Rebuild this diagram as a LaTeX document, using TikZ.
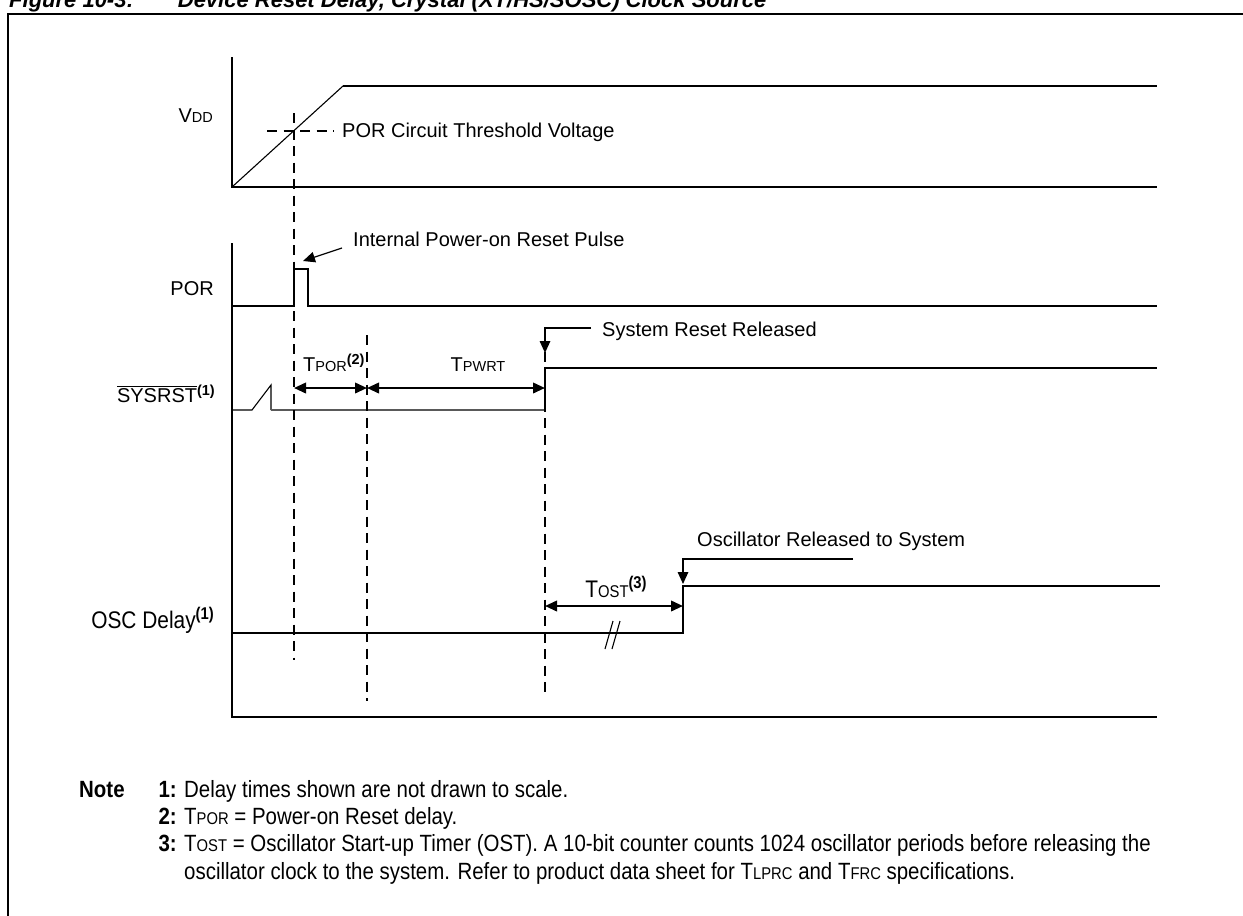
\documentclass[tikz,border=0pt]{standalone}
\usepackage{fontspec}
\setmainfont{Liberation Sans}
\newfontfamily\narrowfont{Liberation Sans}[FakeStretch=0.87]
\usetikzlibrary{arrows.meta}
\newcommand{\sm}[1]{{\fontsize{14.5}{14.5}\selectfont #1}}
\newcommand{\nsm}[1]{{\fontsize{17}{17}\selectfont #1}}
\newcommand{\supn}[1]{\raisebox{7pt}{\fontsize{14.5}{14.5}\selectfont\bfseries (#1)}}
\newcommand{\nsupn}[1]{\raisebox{8.5pt}{\fontsize{17}{17}\selectfont\bfseries (#1)}}
\begin{document}
\begin{tikzpicture}[x=1pt,y=-1pt,
  sig/.style={line width=2.2pt, line join=miter},
  thinl/.style={line width=1.1pt},
  grayl/.style={line width=1.6pt, draw=black!65},
  dl/.style={line width=1.8pt, dash pattern=on 10pt off 6.5pt},
  lbl/.style={inner sep=0pt, font=\fontsize{20}{23}\selectfont},
  nlbl/.style={inner sep=0pt, font=\narrowfont\fontsize{24}{27}\selectfont},
  tip/.style={-{Triangle[length=12pt,width=10.5pt]}},
  arrl/.style={line width=1.2pt, tip},
  dimarr/.style={line width=2.2pt, {Triangle[length=12pt,width=10.5pt]}-{Triangle[length=12pt,width=10.5pt]}},
  notef/.style={inner sep=0pt, font=\narrowfont\fontsize{23.5}{27}\selectfont}
]
\useasboundingbox (0,0) rectangle (1243,916);
% frame and title
\draw[line width=2.4pt] (1265,14) -- (8,14) -- (8,940);
\node[anchor=base west, inner sep=0pt, font=\fontsize{22}{25}\selectfont\bfseries\itshape] (title) at (9,7)
  {Figure 10-3:\hspace{44pt}Device Reset Delay, Crystal (XT/HS/SOSC) Clock Source};

% axes
\draw[sig] (232,57) -- (232,187) -- (1157,187);
\draw[sig] (343,86) -- (1157,86);
\draw[thinl] (232,187) -- (343,86);
\draw[sig] (232,243) -- (232,717) -- (1157,717);

% POR pulse
\draw[sig] (232,306) -- (294,306) -- (294,269) -- (308,269) -- (308,306) -- (1157,306);
% SYSRST
\draw[thinl] (232,410) -- (252,410) -- (271,385) -- (271,410);
\draw[grayl] (271,410) -- (545,410);
\draw[sig] (545,410) -- (545,368) -- (1157,368);
% OSC
\draw[sig] (232,633) -- (683,633) -- (683,586) -- (1160,586);
% break mark
\draw[thinl] (605,649) -- (613,621);
\draw[thinl] (612,649) -- (620,621);

% dashed markers
\draw[dl] (294,113) -- (294,660);
\draw[dl] (367,335) -- (367,701);
\draw[dl] (545,352) -- (545,695);
\draw[dl] (267,131) -- (334,131);

% signal labels
\node[lbl, anchor=base east] (vdd) at (213,122) {V\sm{DD}};
\node[lbl, anchor=base east] (por) at (214,295) {POR};
\node[lbl, anchor=base east] (sys) at (215,402) {$\overline{\hbox{SYSRST}}$\supn{1}};
\node[nlbl, anchor=base east] (osc) at (214,628) {OSC Delay\nsupn{1}};

% annotations
\node[lbl, anchor=base west] (thr) at (342,137) {POR Circuit Threshold Voltage};
\node[lbl, anchor=base west] (ipr) at (353,246) {Internal Power-on Reset Pulse};
\coordinate (iprs) at (342,248);
\coordinate (iprt) at (303,261);
\draw[arrl] (iprs) -- (iprt);

\node[lbl, anchor=base west] (srr) at (602,336) {System Reset Released};
\coordinate (srs) at (591,328);
\coordinate (srt) at (545,353);
\draw[arrl, line width=1.6pt] (srs) -| (srt);

\node[lbl, anchor=base west] (orl) at (697,546) {Oscillator Released to System};
\coordinate (ors) at (853,559);
\coordinate (ort) at (683,584);
\draw[arrl, line width=1.6pt] (ors) -| (ort);

% timing intervals
\coordinate (d1) at (294,388);
\coordinate (d2) at (367,388);
\coordinate (d3) at (545,388);
\draw[dimarr] (d1) -- (d2);
\draw[dimarr] (d2) -- (d3);
\node[lbl, anchor=base west] (tpor) at (303,371) {T\sm{POR}\supn{2}};
\node[lbl, anchor=base] (tpwrt) at (478,371) {T\sm{PWRT}};
\coordinate (d4) at (545,606);
\coordinate (d5) at (683,606);
\draw[dimarr] (d4) -- (d5);
\node[nlbl, anchor=base] (tost) at (616,597) {T\nsm{OST}\nsupn{3}};

% notes
\node[notef, anchor=base west] (nn) at (79,797) {\bfseries Note};
\node[notef, anchor=base east] (n1) at (177,797) {\bfseries 1:};
\node[notef, anchor=base east] (n2) at (177,824) {\bfseries 2:};
\node[notef, anchor=base east] (n3) at (177,851) {\bfseries 3:};
\node[notef, anchor=base west] (t1) at (184,797) {Delay times shown are not drawn to scale.};
\node[notef, anchor=base west] (t2) at (184,824) {T\nsm{POR} = Power-on Reset delay.};
\node[notef, anchor=base west] (t3) at (184,851) {T\nsm{OST} = Oscillator Start-up Timer (OST). A 10-bit counter counts 1024 oscillator periods before releasing the};
\node[notef, anchor=base west] (t4) at (184,879) {oscillator clock to the system. Refer to product data sheet for T\nsm{LPRC} and T\nsm{FRC} specifications.};
\end{tikzpicture}
\end{document}
